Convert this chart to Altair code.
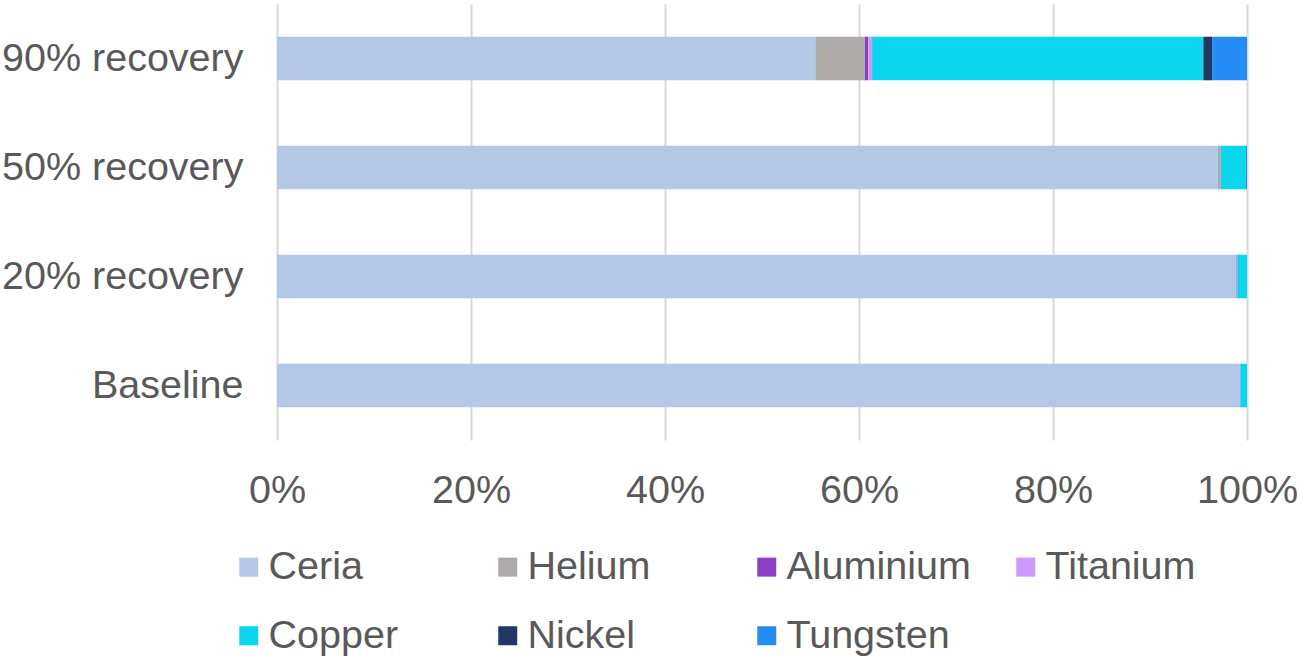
import altair as alt
import pandas as pd

scenarios = ["90% recovery", "50% recovery", "20% recovery", "Baseline"]
materials = ["Ceria", "Helium", "Aluminium", "Titanium", "Copper", "Nickel", "Tungsten"]
colors = ["#b4c7e7", "#aeaaaa", "#8b3fc7", "#cc99ff", "#0bd6ee", "#1f3864", "#258cf5"]

# shares (%) per scenario, in material order
r90 = [55.5, 5.1, 0.35, 0.4, 34.15, 0.9, 3.6]
r50 = [97.0, 0.3, 0.0, 0.0, 2.6, 0.0, 0.1]
r20 = [98.9, 0.0, 0.05, 0.05, 1.0, 0.0, 0.0]
base = [99.3, 0.0, 0.0, 0.0, 0.7, 0.0, 0.0]

rows = []
for sc, vals in zip(scenarios, [r90, r50, r20, base]):
    for i, (m, v) in enumerate(zip(materials, vals)):
        rows.append({"scenario": sc, "material": m, "share": v, "order": i})
df = pd.DataFrame(rows)

FONT = "Liberation Sans"
GREY = "#595959"
FS = 39.5

chart = alt.Chart(df).mark_bar().encode(
    y=alt.Y("scenario:N", sort=scenarios, title=None,
            scale=alt.Scale(paddingInner=0.6, paddingOuter=0.3),
            axis=alt.Axis(labelFontSize=FS, labelColor=GREY, labelFont=FONT,
                          labelPadding=34, labelLimit=400, ticks=False, domain=False, grid=False)),
    x=alt.X("share:Q", stack="normalize", title=None,
            scale=alt.Scale(domain=[0, 1]),
            axis=alt.Axis(format=".0%", values=[0, 0.2, 0.4, 0.6, 0.8, 1.0],
                          labelFontSize=FS, labelColor=GREY, labelFont=FONT, labelFlush=False,
                          labelPadding=31, ticks=False, domain=False,
                          grid=True, gridColor="#d9d9d9", gridWidth=2)),
    color=alt.Color("material:N", sort=materials,
                    scale=alt.Scale(domain=materials, range=colors),
                    legend=alt.Legend(title=None, orient="none", legendX=-48, legendY=543,
                                      direction="horizontal",
                                      columns=4, gridAlign="all", columnPadding=35,
                                      rowPadding=28, symbolType="square", symbolSize=361,
                                      symbolStrokeWidth=0, symbolOffset=0, labelOffset=0,
                                      labelFontSize=FS, labelFont=FONT, labelColor=GREY,
                                      labelLimit=400)),
    order=alt.Order("order:Q", sort="ascending"),
).properties(
    width=970, height=436,
    autosize=alt.AutoSizeParams(type="none"),
    padding={"left": 277, "top": 4, "right": 52, "bottom": 221},
).configure_view(stroke=None)

chart.save("out.html", embed_options={"renderer": "svg", "actions": False})
